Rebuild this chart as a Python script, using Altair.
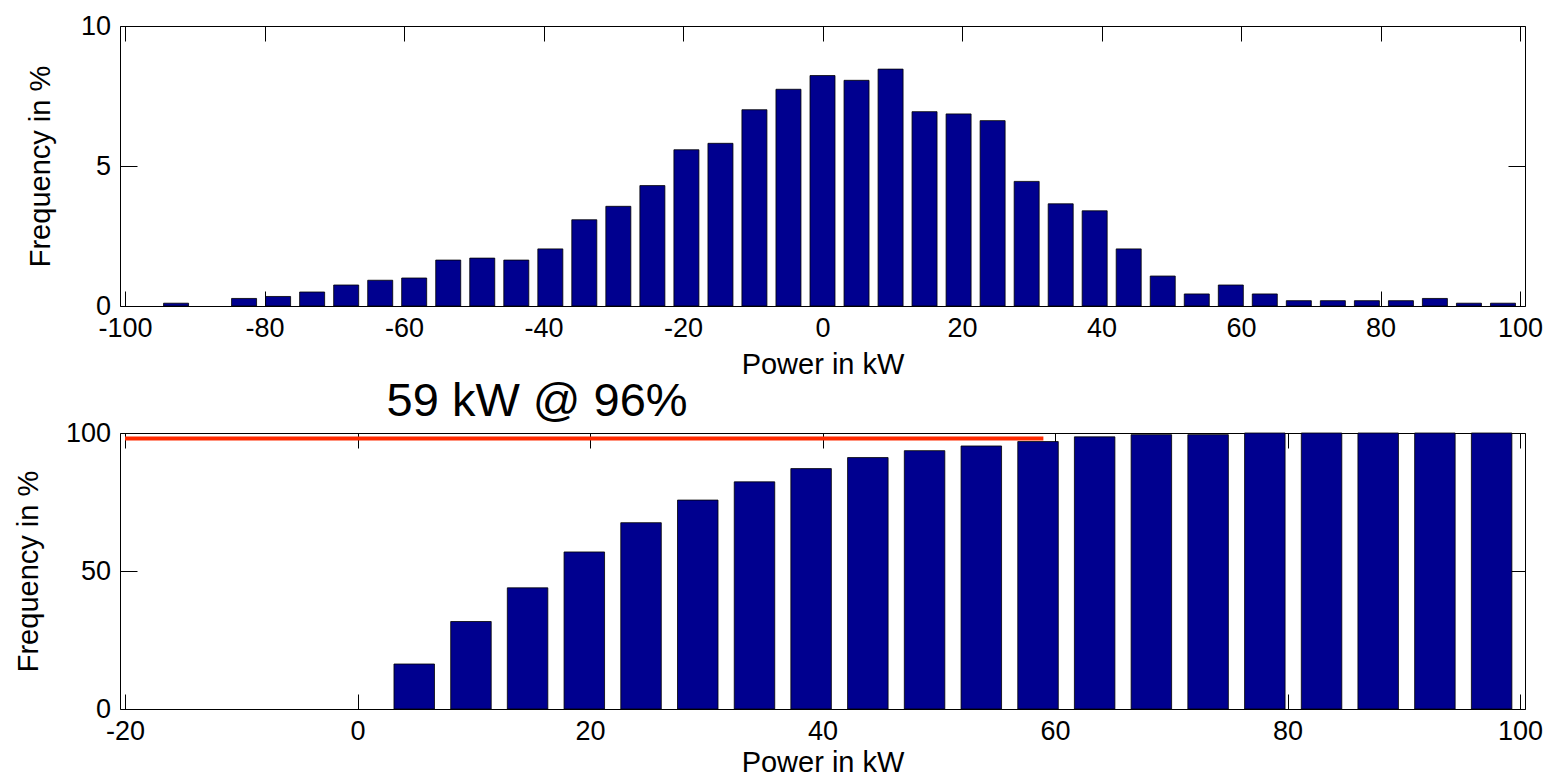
import altair as alt
import pandas as pd

# ---------------- data ----------------
top_power = [-92.68, -82.93, -78.05, -73.17, -68.29, -63.41, -58.54, -53.66, -48.78, -43.90,
             -39.02, -34.15, -29.27, -24.39, -19.51, -14.63, -9.76, -4.88, 0.0, 4.88,
             9.76, 14.63, 19.51, 24.39, 29.27, 34.15, 39.02, 43.90, 48.78, 53.66,
             58.54, 63.41, 68.29, 73.17, 78.05, 82.93, 87.80, 92.68, 97.56]
top_freq = [0.1, 0.27, 0.34, 0.5, 0.75, 0.92, 1.0, 1.64, 1.71, 1.64,
            2.04, 3.08, 3.56, 4.3, 5.58, 5.81, 7.01, 7.74, 8.23, 8.06,
            8.46, 6.94, 6.86, 6.62, 4.45, 3.65, 3.40, 2.04, 1.07, 0.43,
            0.75, 0.43, 0.19, 0.19, 0.19, 0.19, 0.27, 0.1, 0.1]

cum_power = [4.88, 9.76, 14.63, 19.51, 24.39, 29.27, 34.15, 39.02, 43.90, 48.78,
             53.66, 58.54, 63.41, 68.29, 73.17, 78.05, 82.93, 87.80, 92.68, 97.56]
cum_freq = [16.3, 31.7, 43.9, 56.9, 67.5, 75.7, 82.3, 87.1, 91.1, 93.6,
            95.3, 96.9, 98.6, 99.4, 99.4, 100, 100, 100, 100, 100]

marker_start = [-20]
marker_end = [59]
marker_level = [98]
annotation_text = ["59 kW @ 96%"]
annotation_x = [2.5]
annotation_y = [106]

top_x_ticks = [-100, -80, -60, -40, -20, 0, 20, 40, 60, 80, 100]
top_y_ticks = [0, 5, 10]
bot_x_ticks = [-20, 0, 20, 40, 60, 80, 100]
bot_y_ticks = [0, 50, 100]

top_df = pd.DataFrame({"power": top_power, "freq": top_freq})
cum_df = pd.DataFrame({"power": cum_power, "freq": cum_freq})
line_df = pd.DataFrame({"x": marker_start, "x2": marker_end, "y": marker_level})
text_df = pd.DataFrame({"x": annotation_x, "y": annotation_y, "label": annotation_text})

BAR_COLOR = "#00008f"
FONT = "Liberation Sans"


def x_axis_bottom(values, tpad):
    return alt.Axis(orient="bottom", offset=-15, tickSize=15, domain=False, values=values,
                    labelExpr="'' + datum.value",
                    labelPadding=9, labelFontSize=27, titleFontSize=29, titlePadding=tpad,
                    title="Power in kW", labelFlush=False, labelOverlap=False, grid=False,
                    tickColor="black", labelColor="black", titleColor="black",
                    titleFontWeight="normal")


def x_axis_top(values):
    return alt.Axis(orient="top", offset=-15, tickSize=15, domain=False, values=values,
                    labels=False, title=None, grid=False, tickColor="black")


def y_axis_left(values, tpad):
    return alt.Axis(orient="left", offset=-17, tickSize=17, domain=False, values=values,
                    labelPadding=9.5, labelFontSize=27, titleFontSize=29, titlePadding=tpad,
                    title="Frequency in %", labelFlush=False, labelOverlap=False, grid=False,
                    tickColor="black", labelColor="black", titleColor="black",
                    titleFontWeight="normal")


def y_axis_right(values):
    return alt.Axis(orient="right", offset=-17, tickSize=17, domain=False, values=values,
                    labels=False, title=None, grid=False, tickColor="black")


# ---------------- top panel ----------------
tx = alt.Scale(domain=[-100, 100], nice=False, zero=False)
ty = alt.Scale(domain=[0, 10], nice=False)

top_bars = alt.Chart(top_df).mark_bar(size=25, color=BAR_COLOR, stroke="black",
                                      strokeWidth=0.8).encode(
    x=alt.X("power:Q", scale=tx, axis=x_axis_bottom(top_x_ticks, 9)),
    y=alt.Y("freq:Q", scale=ty, axis=y_axis_left(top_y_ticks, 25)),
)
top_ghost = alt.Chart(top_df).mark_bar(size=25, opacity=0).encode(
    x=alt.X("power:Q", scale=tx, axis=x_axis_top(top_x_ticks)),
    y=alt.Y("freq:Q", scale=ty, axis=y_axis_right(top_y_ticks)),
)
top_panel = alt.layer(top_bars, top_ghost).resolve_axis(
    x="independent", y="independent").properties(width=1405, height=280)

# ---------------- bottom panel ----------------
bx = alt.Scale(domain=[-20, 100], nice=False, zero=False)
by = alt.Scale(domain=[0, 100], nice=False)

bot_bars = alt.Chart(cum_df).mark_bar(size=40.5, color=BAR_COLOR, stroke="black",
                                      strokeWidth=0.8).encode(
    x=alt.X("power:Q", scale=bx, axis=x_axis_bottom(bot_x_ticks, 4)),
    y=alt.Y("freq:Q", scale=by, axis=y_axis_left(bot_y_ticks, 22)),
)
bot_line = alt.Chart(line_df).mark_rule(color="#ff2a00", strokeWidth=4).encode(
    x=alt.X("x:Q", scale=bx, axis=x_axis_top(bot_x_ticks)),
    x2="x2:Q",
    y=alt.Y("y:Q", scale=by, axis=y_axis_right(bot_y_ticks)),
)
bot_text = alt.Chart(text_df).mark_text(align="left", baseline="alphabetic", fontSize=47,
                                        font=FONT, color="black").encode(
    x=alt.X("x:Q", scale=bx, axis=None),
    y=alt.Y("y:Q", scale=by, axis=None),
    text="label:N",
)
bot_panel = alt.layer(bot_bars, bot_line, bot_text).resolve_axis(
    x="independent", y="independent").properties(width=1405, height=276)

chart = alt.vconcat(top_panel, bot_panel, spacing=127, bounds="flush").properties(
    padding={"left": 5, "top": 3, "right": 0, "bottom": 0}
).configure(font=FONT).configure_view(stroke="black", strokeWidth=1)

chart.save("out.html", embed_options={"renderer": "svg", "actions": False})
